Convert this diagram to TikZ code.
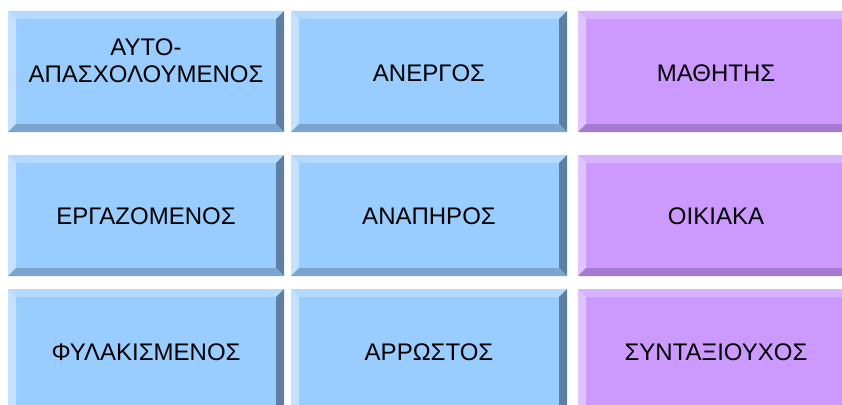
\documentclass[tikz,border=0pt]{standalone}
\usepackage{fontspec}
\setmainfont{Liberation Sans}

\definecolor{galazio}{HTML}{99CCFF}
\definecolor{galaziopano}{HTML}{B5DAFF}
\definecolor{galazioaristera}{HTML}{C4E2FF}
\definecolor{galaziodexia}{HTML}{5E7FA0}
\definecolor{galaziokato}{HTML}{7BA4CE}
\definecolor{mov}{HTML}{CC99FF}
\definecolor{movpano}{HTML}{D8B3FF}
\definecolor{movaristera}{HTML}{E1C4FF}
\definecolor{movdexia}{HTML}{9A74C2}
\definecolor{movkato}{HTML}{A47BCE}

% koumpi me loksES akres: aristera, pano, ypsos, xroma
\newcommand{\koumpi}[4]{%
	\fill[#4] (#1,#2) rectangle ++(276,#3);
	\fill[#4pano] (#1,#2) -- ++(276,0) -- ++(-8,8) -- ++(-260,0) -- cycle;
	\fill[#4aristera] (#1,#2) -- ++(8,8) -- ++(0,#3-16) -- ++(-8,8) -- cycle;
	\fill[#4dexia] (#1+276,#2) -- ++(0,#3) -- ++(-8,-8) -- ++(0,16-#3) -- cycle;
	\fill[#4kato] (#1,#2+#3) -- ++(276,0) -- ++(-8,-8) -- ++(-260,0) -- cycle;
}

\begin{document}
\begin{tikzpicture}[x=1pt, y=-1pt, every node/.style={font=\fontsize{24}{27}\selectfont, align=center, text=black}]
			\useasboundingbox (0,0) rectangle (842,404);
			\foreach \y/\h in {11/121,155/121,289/126} {
				\koumpi{8}{\y}{\h}{galazio}
				\koumpi{291}{\y}{\h}{galazio}
				\koumpi{578}{\y}{\h}{mov}
			}
			% proti grammi
			\node (aftoapasx) at (146,61) {ΑΥΤΟ-\\ΑΠΑΣΧΟΛΟΥΜΕΝΟΣ};
			\node (anergos) at (429,73) {ΑΝΕΡΓΟΣ};
			\node (mathitis) at (716,73) {ΜΑΘΗΤΗΣ};
			% deuteri grammi
			\node (ergazomenos) at (146,216) {ΕΡΓΑΖΟΜΕΝΟΣ};
			\node (anapiros) at (429,216) {ΑΝΑΠΗΡΟΣ};
			\node (oikiaka) at (716,216) {ΟΙΚΙΑΚΑ};
			% triti grammi
			\node (fylakismenos) at (146,352) {ΦΥΛΑΚΙΣΜΕΝΟΣ};
			\node (arrostos) at (429,352) {ΑΡΡΩΣΤΟΣ};
			\node (syntaxiouxos) at (716,352) {ΣΥΝΤΑΞΙΟΥΧΟΣ};
		\end{tikzpicture}
\end{document}
